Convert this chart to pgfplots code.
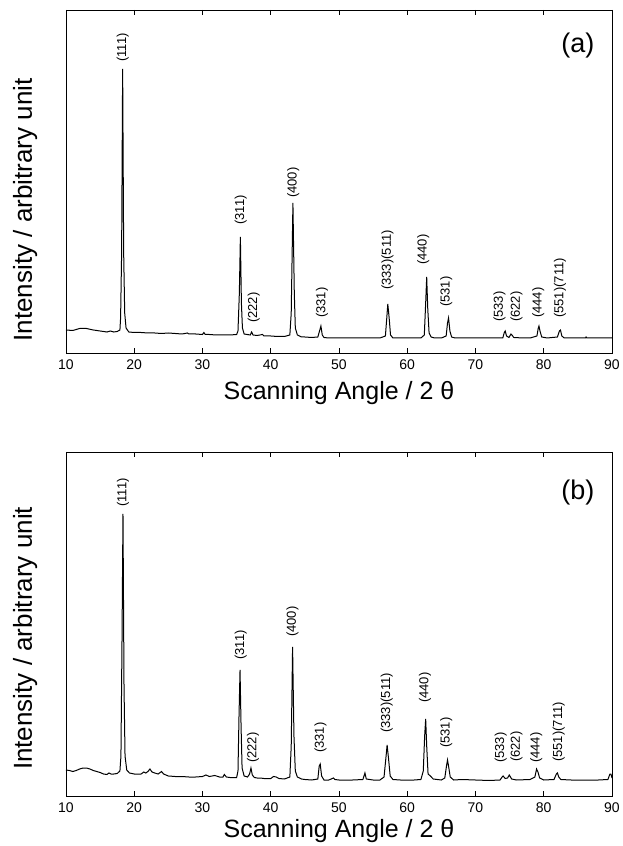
\documentclass[border=0pt]{standalone}
\usepackage{pgfplots}
\pgfplotsset{compat=1.18}
\usepackage{fontspec}
\setmainfont{Liberation Sans}
\pgfplotsset{
  xrdaxis/.style={
    scale only axis, width=546pt,
    xmin=10, xmax=90, ymin=0,
    xtick={10,20,...,90}, ytick=\empty,
    tick align=inside, xtick pos=both, major tick length=5pt,
    axis line style={line width=0.9pt}, every tick/.style={line width=0.9pt, black},
    tick label style={font=\fontsize{14}{16}\selectfont},
    /pgf/number format/assume math mode=true,
    xticklabel style={yshift=-3pt},
    xlabel={Scanning Angle / 2 θ},
    ylabel={Intensity / arbitrary unit},
    clip=false,
  },
}
\tikzset{pk/.style={rotate=90, anchor=west, inner sep=0pt, font=\fontsize{13}{15}\selectfont}}
\begin{document}
\begin{tikzpicture}
\path[use as bounding box] (-66pt,0pt) rectangle (556pt,846pt);
% ---------- (a)
\begin{axis}[xrdaxis, at={(0pt,493pt)}, anchor=south west, height=343pt, ymax=343,
  xlabel style={font=\fontsize{25}{28}\selectfont, at={(axis description cs:0.5,0)}, anchor=north, yshift=-25pt},
  ylabel style={font=\fontsize{26}{28}\selectfont, at={(axis description cs:-0.075,0.417)}, anchor=center}]
\addplot[black, line width=1pt] coordinates {
(10,23) (11,22.5) (12,24.5) (13,24.5) (14,23) (15,22) (16,21) (16.5,22) (17,21) (17.5,21.5) (17.9,23)
(18.0,35) (18.15,100) (18.3,284) (18.45,100) (18.6,40) (18.8,25) (19.2,21)
(20,20.5) (21,20.5) (22,20) (23,20) (24,19.5) (25,20) (26,19.5) (27,19) (27.8,20) (28,19) (29,19) (30,18.5) (30.2,20.5) (30.4,18.5) (31,18.5) (32,18) (33,18) (34,18) (35,18.5)
(35.2,22) (35.4,60) (35.55,116) (35.7,50) (35.85,25) (36.1,19)
(37.0,18) (37.2,21) (37.4,18) (38,17.5) (38.8,18.5) (39,17) (40,17) (41,16.5) (42,16.5) (42.8,18)
(43.0,40) (43.25,150) (43.45,60) (43.6,25) (43.9,18)
(44.5,16) (45,16) (46,15.5) (46.9,16) (47.15,22) (47.35,27) (47.55,18) (47.8,15.5) (48.5,15) (50,15) (52,15) (54,15) (56,15)
(56.8,17) (57.0,35) (57.15,49) (57.35,35) (57.55,18) (57.9,15) (59,15) (61,15) (62,15)
(62.5,18) (62.7,50) (62.85,76) (63.0,45) (63.2,20) (63.5,16) (64,15) (65,15)
(65.7,17) (65.9,30) (66.05,35) (66.25,22) (66.5,16) (67,15) (68,15) (70,15) (72,15) (74,15)
(74.2,20) (74.35,22) (74.55,17) (74.9,15.5) (75.2,19) (75.4,17.5) (75.6,15.5) (77,15) (78,15)
(79.0,17) (79.2,25) (79.3,27) (79.45,22) (79.7,16) (80.5,15) (82.0,16) (82.3,22) (82.45,23) (82.65,17) (83,15) (85,15)
(86.1,15) (86.2,16) (86.3,15) (88,15) (90,15)
};
\node[pk] at (axis cs:18.3,291) {(111)};
\node[pk] at (axis cs:35.6,128) {(311)};
\node[pk] at (axis cs:37.5,30) {(222)};
\node[pk] at (axis cs:43.3,155) {(400)};
\node[pk] at (axis cs:47.5,35) {(331)};
\node[pk] at (axis cs:57.1,63) {(333)(511)};
\node[pk] at (axis cs:62.35,88) {(440)};
\node[pk] at (axis cs:65.7,46) {(531)};
\node[pk] at (axis cs:73.5,31) {(533)};
\node[pk] at (axis cs:76.0,31) {(622)};
\node[pk] at (axis cs:79.2,35) {(444)};
\node[pk] at (axis cs:82.4,35) {(551)(711)};
\node[font=\fontsize{27}{30}\selectfont, inner sep=0pt] at (axis cs:85.0,307) {(a)};
\end{axis}
% ---------- (b)
\begin{axis}[xrdaxis, at={(0pt,50pt)}, anchor=south west, height=344pt, ymax=344,
  xlabel style={font=\fontsize{25}{28}\selectfont, at={(axis description cs:0.5,0)}, anchor=north, yshift=-20pt},
  ylabel style={font=\fontsize{26}{28}\selectfont, at={(axis description cs:-0.075,0.458)}, anchor=center}]
\addplot[black, line width=1pt] coordinates {
(10,26) (10.5,25.5) (11,24.5) (11.5,25.5) (12,27) (12.5,28) (13,28) (13.5,27) (14,25.5) (15,23.5) (15.5,22) (16,21.5) (16.3,23) (16.6,22) (17,22) (17.5,22.5) (17.9,25)
(18.05,40) (18.2,150) (18.35,282) (18.5,110) (18.65,40) (18.9,26) (19.3,23)
(20,22) (21,22) (21.4,24) (21.7,23) (22,24.5) (22.3,27) (22.6,24) (23,23) (23.5,22) (24,24.5) (24.3,22) (25,20) (26,19.5) (27,19.5) (28,19) (29,19) (30,19.5) (30.5,21) (31,19.5) (31.8,20.5) (32.5,19) (33,19) (33.2,21.5) (33.5,19) (34,18.5) (35,18.5)
(35.2,25) (35.35,80) (35.5,126) (35.65,70) (35.8,28) (36.1,20)
(36.6,19) (36.9,22) (37.1,28) (37.3,21) (37.6,18.5) (38,18) (38.5,18) (39,17.5) (40,17.5) (40.4,19.5) (40.8,19) (41.2,17.5) (42,17) (42.8,19)
(43.0,50) (43.2,149) (43.4,60) (43.6,25) (43.9,19)
(44.5,17) (45,16.5) (46,16) (46.9,17) (47.1,30) (47.25,32) (47.45,20) (47.8,16) (48.5,16) (49.2,18) (49.4,16.5) (50,16) (52,16) (53.5,16.5) (53.8,23) (54.0,17) (55,16) (56,16)
(56.6,19) (56.9,40) (57.05,51) (57.25,38) (57.5,20) (57.9,16.5) (59,16) (61,16) (62,16.5)
(62.35,25) (62.55,60) (62.7,77) (62.85,50) (63.05,22) (63.4,20) (63.8,17) (65,16)
(65.5,18) (65.75,30) (65.9,36) (66.05,30) (66.3,19) (66.8,16) (68,16.5) (70,16) (72,15.5) (73.6,16)
(73.9,19) (74.05,20) (74.35,17.5) (74.7,18) (74.95,21) (75.3,17) (76,16) (78,16.5)
(78.7,19) (78.95,27) (79.15,24) (79.4,18) (80,16) (81.5,16.5) (81.85,22) (82.0,23) (82.2,19) (82.5,16.5) (84,16) (86,16) (88,16)
(89.4,16.5) (89.7,22) (89.85,22) (90,18)
};
\node[pk] at (axis cs:18.35,289) {(111)};
\node[pk] at (axis cs:35.6,136) {(311)};
\node[pk] at (axis cs:37.4,33) {(222)};
\node[pk] at (axis cs:43.2,159) {(400)};
\node[pk] at (axis cs:47.3,43) {(331)};
\node[pk] at (axis cs:57.0,63) {(333)(511)};
\node[pk] at (axis cs:62.6,93) {(440)};
\node[pk] at (axis cs:65.7,48) {(531)};
\node[pk] at (axis cs:73.7,33) {(533)};
\node[pk] at (axis cs:76.0,34) {(622)};
\node[pk] at (axis cs:78.9,33) {(444)};
\node[pk] at (axis cs:82.2,34) {(551)(711)};
\node[font=\fontsize{27}{30}\selectfont, inner sep=0pt] at (axis cs:85.0,303) {(b)};
\end{axis}
\end{tikzpicture}
\end{document}
